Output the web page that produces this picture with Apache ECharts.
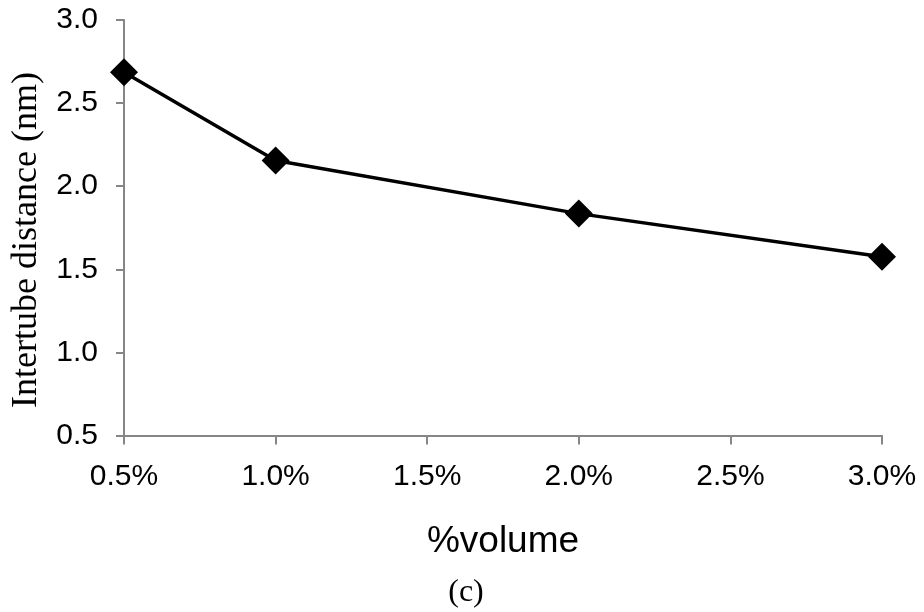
<!DOCTYPE html>
<html>
<head>
<meta charset="utf-8">
<script src="https://cdn.jsdelivr.net/npm/echarts@6/dist/echarts.min.js"></script>
<style>
  html, body { margin: 0; padding: 0; background: #fff; }
  #chart { width: 924px; height: 612px; }
</style>
</head>
<body>
<div id="chart"></div>
<script>
// Volume fraction (%) and measured intertube distance (nm)
const volumePct = [0.5, 1.0, 2.0, 3.0];
const intertubeNm = [2.685, 2.155, 1.835, 1.575];

// Axis ranges and tick spacing
const xRange = [0.5, 3.0];
const yRange = [0.5, 3.0];
const tickStep = 0.5;

const xAxisTitle = '%volume';
const yAxisTitle = 'Intertube distance (nm)';
const panelTag = '(c)';

const axisGray = '#868686';
const sansFont = '"Liberation Sans", Arial, sans-serif';
const serifFont = '"Liberation Serif", "Times New Roman", serif';

const chart = echarts.init(document.getElementById('chart'), null, { renderer: 'canvas' });

chart.setOption({
  animation: false,
  backgroundColor: '#ffffff',
  grid: { left: 124, right: 42, top: 20, bottom: 176.5, containLabel: false },
  xAxis: {
    type: 'value',
    min: xRange[0],
    max: xRange[1],
    interval: tickStep,
    name: xAxisTitle,
    nameLocation: 'middle',
    nameGap: 88,
    nameTextStyle: { fontFamily: sansFont, fontSize: 37, color: '#000' },
    axisLine: { show: true, lineStyle: { color: axisGray, width: 2 } },
    axisTick: { show: true, length: 9, inside: false, lineStyle: { color: axisGray, width: 2 } },
    splitLine: { show: false },
    axisLabel: {
      margin: 26,
      fontFamily: sansFont,
      fontSize: 30,
      color: '#000',
      formatter: v => v.toFixed(1) + '%'
    }
  },
  yAxis: {
    type: 'value',
    min: yRange[0],
    max: yRange[1],
    interval: tickStep,
    axisLine: { show: true, lineStyle: { color: axisGray, width: 2 } },
    axisTick: { show: true, length: 8, inside: false, lineStyle: { color: axisGray, width: 2 } },
    splitLine: { show: false },
    axisLabel: {
      margin: 26,
      fontFamily: sansFont,
      fontSize: 30,
      color: '#000',
      formatter: v => v.toFixed(1)
    }
  },
  series: [{
    type: 'line',
    data: volumePct.map((x, i) => [x, intertubeNm[i]]),
    symbol: 'diamond',
    symbolSize: 28,
    showSymbol: true,
    lineStyle: { color: '#000', width: 3.5 },
    itemStyle: { color: '#000', borderWidth: 0 },
    z: 3
  }],
  graphic: [
    {
      type: 'text',
      x: 27,
      y: 240,
      rotation: Math.PI / 2,
      style: {
        text: yAxisTitle,
        font: '36px ' + serifFont,
        fill: '#000',
        textAlign: 'center',
        textVerticalAlign: 'middle'
      }
    },
    {
      type: 'text',
      x: 466,
      y: 593,
      style: {
        text: panelTag,
        font: '32px ' + serifFont,
        fill: '#000',
        textAlign: 'center',
        textVerticalAlign: 'middle'
      }
    }
  ]
});
</script>
</body>
</html>
